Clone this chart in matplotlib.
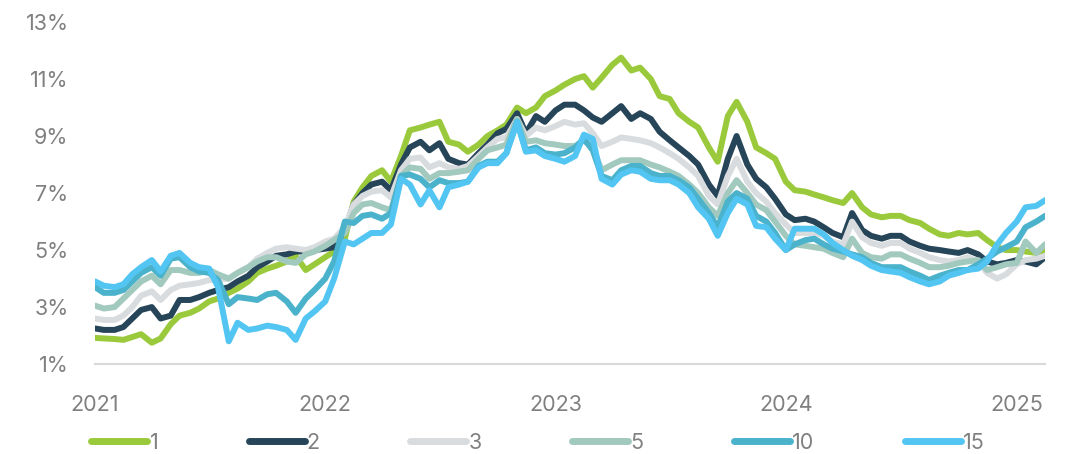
import matplotlib
matplotlib.use("Agg")
import matplotlib.pyplot as plt
import matplotlib.dates as mdates
import pandas as pd

# semi-monthly observations, Jan 2021 - Feb 2025
dates = pd.date_range("2021-01-01", "2025-02-15", freq="SMS")

labels = ["1", "2", "3", "5", "10", "15"]
colors = ["#9ACA3C", "#264559", "#D9DCDE", "#A2C9BE", "#4BB2CC", "#52C5F2"]

y1 = [1.92, 1.9, 1.88, 1.85, 1.95, 2.05, 1.75, 1.9, 2.4, 2.7, 2.8, 2.95,
      3.2, 3.3, 3.5, 3.65, 3.9, 4.2, 4.35, 4.45, 4.6, 4.8, 4.3, 4.5,
      4.75, 4.95, 5.4, 6.7, 7.2, 7.6, 7.8, 7.4, 8.3, 9.2, 9.3, 9.4,
      9.5, 8.8, 8.7, 8.45, 8.7, 9.0, 9.2, 9.4, 10.0, 9.8, 10.0, 10.4,
      10.6, 10.8, 11.0, 11.1, 10.7, 11.05, 11.5, 11.75, 11.3, 11.4, 11.0, 10.4,
      10.3, 9.8, 9.5, 9.3, 8.6, 8.1, 9.7, 10.2, 9.5, 8.6, 8.4, 8.2,
      7.4, 7.1, 7.05, 6.95, 6.85, 6.75, 6.65, 7.0, 6.5, 6.25, 6.15, 6.2,
      6.2, 6.05, 5.95, 5.75, 5.55, 5.5, 5.6, 5.55, 5.6, 5.35, 5.1, 5.0,
      5.0, 4.95, 4.9, 5.0]
y2 = [2.25, 2.2, 2.2, 2.3, 2.6, 2.9, 3.0, 2.6, 2.7, 3.25, 3.25, 3.35,
      3.5, 3.6, 3.7, 3.9, 4.1, 4.4, 4.6, 4.8, 4.85, 4.95, 4.95, 5.0,
      5.05, 5.1, 5.7, 6.6, 7.0, 7.3, 7.4, 7.1, 8.0, 8.6, 8.8, 8.5,
      8.75, 8.2, 8.05, 8.0, 8.4, 8.7, 9.1, 9.25, 9.8, 9.1, 9.7, 9.5,
      9.9, 10.1, 10.1, 9.9, 9.65, 9.5, 9.8, 10.05, 9.6, 9.8, 9.6, 9.15,
      8.85, 8.6, 8.3, 8.0, 7.3, 6.9, 8.2, 9.0, 8.0, 7.5, 7.2, 6.8,
      6.25, 6.05, 6.1, 6.0, 5.8, 5.6, 5.45, 6.3, 5.7, 5.5, 5.4, 5.5,
      5.5, 5.3, 5.15, 5.05, 5.0, 4.95, 4.9, 5.0, 4.85, 4.6, 4.5, 4.55,
      4.65, 4.6, 4.5, 4.75]
y3 = [2.6, 2.55, 2.55, 2.7, 3.0, 3.4, 3.55, 3.25, 3.6, 3.75, 3.8, 3.85,
      3.95, 3.95, 4.0, 4.2, 4.4, 4.7, 4.9, 5.05, 5.1, 5.05, 5.0, 5.1,
      5.3, 5.4, 5.8, 6.6, 6.9, 7.05, 7.1, 6.85, 7.8, 8.2, 8.25, 7.9,
      8.05, 7.9, 7.85, 7.95, 8.3, 8.6, 8.9, 8.95, 9.6, 9.0, 9.3, 9.2,
      9.35, 9.5, 9.4, 9.45, 9.1, 8.65, 8.8, 8.95, 8.9, 8.85, 8.75, 8.6,
      8.4, 8.2, 7.9, 7.6, 6.9, 6.6, 7.6, 8.2, 7.4, 7.0, 6.7, 6.3,
      5.9, 5.6, 5.6, 5.6, 5.5, 5.3, 5.2, 6.0, 5.45, 5.25, 5.15, 5.25,
      5.25, 5.05, 4.9, 4.75, 4.65, 4.6, 4.65, 4.75, 4.6, 4.2, 4.0, 4.15,
      4.5, 4.65, 4.7, 4.8]
y5 = [3.05, 2.95, 3.0, 3.3, 3.6, 3.9, 4.1, 3.8, 4.3, 4.3, 4.2, 4.2,
      4.3, 4.15, 4.0, 4.2, 4.4, 4.6, 4.75, 4.75, 4.6, 4.55, 4.85, 4.95,
      5.15, 5.35, 5.6, 6.3, 6.6, 6.65, 6.5, 6.4, 7.6, 7.9, 7.85, 7.5,
      7.7, 7.7, 7.75, 7.8, 8.2, 8.5, 8.6, 8.7, 9.6, 8.8, 8.85, 8.75,
      8.7, 8.65, 8.65, 8.85, 8.6, 7.8, 8.0, 8.15, 8.15, 8.15, 8.0, 7.9,
      7.75, 7.6, 7.3, 7.0, 6.5, 6.2, 7.0, 7.45, 7.0, 6.6, 6.4, 6.0,
      5.5, 5.2, 5.15, 5.1, 5.05, 4.9, 4.75, 5.4, 4.9, 4.75, 4.7, 4.85,
      4.85, 4.7, 4.55, 4.4, 4.4, 4.45, 4.55, 4.6, 4.65, 4.3, 4.4, 4.5,
      4.55, 5.3, 4.9, 5.2]
y10 = [3.7, 3.5, 3.5, 3.6, 3.9, 4.2, 4.4, 4.1, 4.7, 4.75, 4.4, 4.25,
       4.2, 3.95, 3.1, 3.35, 3.3, 3.25, 3.45, 3.5, 3.2, 2.8, 3.3, 3.6,
       4.0, 4.6, 6.0, 5.95, 6.2, 6.25, 6.1, 6.3, 7.6, 7.65, 7.5, 7.2,
       7.45, 7.35, 7.35, 7.4, 7.95, 8.1, 8.1, 8.4, 9.5, 8.5, 8.6, 8.4,
       8.35, 8.4, 8.6, 8.9, 8.5, 7.6, 7.45, 7.8, 7.95, 7.95, 7.7, 7.6,
       7.6, 7.45, 7.2, 6.8, 6.3, 5.8, 6.7, 7.0, 6.8, 6.2, 6.0, 5.6,
       5.0, 5.2, 5.35, 5.4, 5.2, 5.05, 4.95, 4.85, 4.75, 4.55, 4.4, 4.4,
       4.4, 4.25, 4.1, 3.95, 4.1, 4.2, 4.3, 4.3, 4.5, 4.7, 4.95, 5.1,
       5.3, 5.8, 6.0, 6.2]
y15 = [3.9, 3.75, 3.7, 3.8, 4.15, 4.4, 4.65, 4.25, 4.8, 4.9, 4.55, 4.4,
       4.35, 3.7, 1.8, 2.45, 2.2, 2.25, 2.35, 2.3, 2.2, 1.85, 2.6, 2.85,
       3.2, 4.0, 5.3, 5.2, 5.4, 5.6, 5.6, 5.9, 7.5, 7.3, 6.6, 7.1,
       6.5, 7.2, 7.3, 7.4, 7.9, 8.05, 8.05, 8.4, 9.5, 8.45, 8.5, 8.3,
       8.2, 8.1, 8.3, 9.05, 8.9, 7.5, 7.3, 7.65, 7.8, 7.75, 7.5, 7.45,
       7.45, 7.3, 7.0, 6.5, 6.1, 5.5, 6.3, 6.8, 6.6, 5.85, 5.8, 5.4,
       5.0, 5.75, 5.75, 5.75, 5.55, 5.25, 5.0, 4.8, 4.65, 4.45, 4.3, 4.25,
       4.2, 4.05, 3.9, 3.8, 3.9, 4.1, 4.2, 4.3, 4.35, 4.6, 5.2, 5.6,
       6.0, 6.5, 6.55, 6.75]
series = [y1, y2, y3, y5, y10, y15]

plt.rcParams['font.family'] = ['Inter', 'DejaVu Sans']
grey = '#808080'

fig = plt.figure(figsize=(10.76, 4.54), dpi=100)
ax = fig.add_axes([0.0883, 0.198, 0.883, 0.7535])

for vals, lab, col in zip(series, labels, colors):
    ax.plot(dates, vals, color=col, lw=4.3, label=lab,
            solid_capstyle='round', solid_joinstyle='round')

ax.set_ylim(1, 13)
ax.set_yticks([1, 3, 5, 7, 9, 11, 13])
ax.set_yticklabels([f"{v}%" for v in [1, 3, 5, 7, 9, 11, 13]])
ax.set_xlim(dates[0], dates[-1])
ax.xaxis.set_major_locator(mdates.YearLocator())
ax.xaxis.set_major_formatter(mdates.DateFormatter('%Y'))

for s in ['top', 'right', 'left']:
    ax.spines[s].set_visible(False)
ax.spines['bottom'].set_color('#d9d9d9')
ax.spines['bottom'].set_linewidth(1.5)
ax.tick_params(axis='both', length=0, labelsize=15.5, colors=grey)
ax.tick_params(axis='y', pad=19)
ax.tick_params(axis='x', pad=22)

leg = fig.legend(loc='lower center', bbox_to_anchor=(0.5, -0.04), ncol=6,
                 frameon=False, fontsize=15.5, handlelength=2.6,
                 handletextpad=0.1, columnspacing=4.2)
for txt in leg.get_texts():
    txt.set_color(grey)
for h in leg.get_lines():
    h.set_linewidth(5)
    h.set_solid_capstyle('round')

fig.savefig('out.png', dpi=100, facecolor='white')
